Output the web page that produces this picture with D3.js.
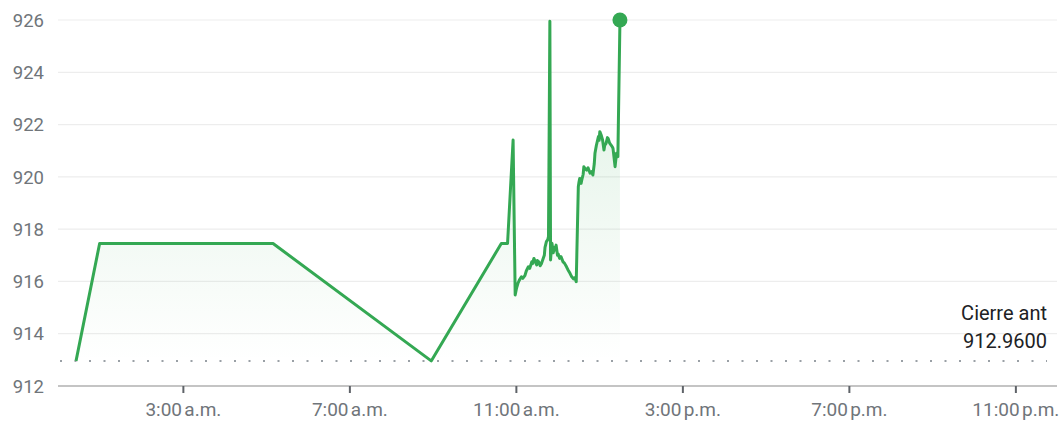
<!DOCTYPE html>
<html>
<head>
<meta charset="utf-8">
<script src="https://cdn.jsdelivr.net/npm/d3@7"></script>
<style>
  html, body { margin: 0; padding: 0; background: #fff; }
  svg { display: block; font-family: Roboto, "Noto Sans", sans-serif; }
</style>
</head>
<body>
<svg id="chart" width="1062" height="426"></svg>
<script>
// ---- data ----
const times = ["00:26","01:00","05:10","08:58","10:39","10:48","10:56","10:59","11:01","11:03","11:05","11:08","11:10","11:13","11:15","11:18","11:20","11:23","11:24","11:26","11:28","11:30","11:31","11:33","11:35","11:37","11:39","11:41","11:42","11:44","11:46","11:47","11:49","11:50","11:51","11:52","11:54","11:55","11:56","11:58","12:00","12:01","12:03","12:05","12:08","12:10","12:13","12:15","12:18","12:20","12:23","12:25","12:27","12:30","12:31","12:32","12:34","12:35","12:37","12:38","12:40","12:42","12:44","12:47","12:49","12:51","12:53","12:54","12:56","12:59","13:00","13:01","13:03","13:05","13:07","13:08","13:10","13:12","13:13","13:15","13:17","13:19","13:20","13:23","13:25","13:27","13:30"];
const values = [912.96,917.45,917.45,912.96,917.45,917.45,921.41,915.48,915.75,915.93,916.05,916.18,916.12,916.22,916.4,916.56,916.5,916.75,916.68,916.88,916.75,916.63,916.8,916.75,916.6,916.69,916.85,917.0,917.3,917.52,917.6,917.71,925.95,916.82,917.2,917.46,917.1,917.3,917.2,917.39,917.0,917.05,916.88,916.95,916.75,916.7,916.56,916.45,916.31,916.2,916.1,916.15,915.99,919.62,919.8,919.94,919.75,919.88,920.1,920.39,920.3,920.26,920.35,920.14,920.2,920.07,920.5,920.9,921.2,921.54,921.4,921.73,921.6,921.41,921.03,921.2,921.28,921.5,921.47,921.3,921.22,921.15,921.09,920.39,920.9,920.77,925.95];
const prevClose = 912.96;
const yTicks = [912, 914, 916, 918, 920, 922, 924, 926];
const xTickHours = [3, 7, 11, 15, 19, 23];
const xTickLabels = ["3:00\u202Fa.m.", "7:00\u202Fa.m.", "11:00\u202Fa.m.", "3:00\u202Fp.m.", "7:00\u202Fp.m.", "11:00\u202Fp.m."];
const closeLabel = ["Cierre ant", "912.9600"];

// ---- setup ----
const svg = d3.select("#chart");
const day = new Date(2024, 0, 1);
const parseT = s => { const [h, m] = s.split(":").map(Number); return new Date(2024, 0, 1, h, m); };
const data = times.map((t, i) => ({ t: parseT(t), v: values[i] }));

const x = d3.scaleTime()
  .domain([day, new Date(2024, 0, 2)])
  .range([58, 1057]);
const y = d3.scaleLinear().domain([912, 926]).range([386, 20]);

const green = "#34a853";

// gradient
const defs = svg.append("defs");
const grad = defs.append("linearGradient").attr("id", "fillGrad")
  .attr("gradientUnits", "userSpaceOnUse")
  .attr("x1", 0).attr("x2", 0).attr("y1", y(926)).attr("y2", y(prevClose));
grad.append("stop").attr("offset", 0).attr("stop-color", green).attr("stop-opacity", 0.17);
grad.append("stop").attr("offset", 1).attr("stop-color", green).attr("stop-opacity", 0.0);

// gridlines
svg.append("g").selectAll("line").data(yTicks.filter(d => d !== 912)).join("line")
  .attr("x1", 58).attr("x2", 1057)
  .attr("y1", d => y(d)).attr("y2", d => y(d))
  .attr("stroke", "#ededed").attr("stroke-width", 1.2);

// y labels
svg.append("g").selectAll("text").data(yTicks).join("text")
  .attr("x", 44).attr("y", d => y(d))
  .attr("dy", "0.36em")
  .attr("text-anchor", "end")
  .attr("font-size", 18.5)
  .attr("fill", "#70757a")
  .text(d => d);

// area
const area = d3.area()
  .x(d => x(d.t))
  .y0(y(prevClose))
  .y1(d => y(d.v));
svg.append("path").datum(data).attr("d", area).attr("fill", "url(#fillGrad)");

// previous close dotted line
svg.append("line")
  .attr("x1", 60).attr("x2", 1047)
  .attr("y1", y(prevClose)).attr("y2", y(prevClose))
  .attr("stroke", "#9aa0a6").attr("stroke-width", 2)
  .attr("stroke-dasharray", "2,12.5");

// x axis
const xAxis = d3.axisBottom(x)
  .tickValues(xTickHours.map(h => new Date(2024, 0, 1, h)))
  .tickFormat((d, i) => xTickLabels[i])
  .tickSize(7)
  .tickPadding(10);
const gx = svg.append("g").attr("transform", `translate(0,${y(912)})`).call(xAxis);
gx.select(".domain").attr("stroke", "#c4c4c4").attr("stroke-width", 2)
  .attr("d", `M58,0H1057`);
gx.selectAll(".tick line").attr("stroke", "#5f6368").attr("stroke-width", 2);
gx.selectAll(".tick text").attr("fill", "#70757a").attr("font-size", 19)
  .attr("font-family", "Roboto, sans-serif");

// line
const line = d3.line().x(d => x(d.t)).y(d => y(d.v));
svg.append("path").datum(data).attr("d", line)
  .attr("fill", "none").attr("stroke", green).attr("stroke-width", 3)
  .attr("stroke-linejoin", "round");

// end dot
const last = data[data.length - 1];
svg.append("circle").attr("cx", x(last.t)).attr("cy", y(926))
  .attr("r", 7.5).attr("fill", green);

// close label
svg.append("g").selectAll("text").data(closeLabel).join("text")
  .attr("x", 1047).attr("y", (d, i) => 320 + i * 28)
  .attr("text-anchor", "end")
  .attr("font-size", 20)
  .attr("fill", "#202124")
  .text(d => d);
</script>
</body>
</html>
